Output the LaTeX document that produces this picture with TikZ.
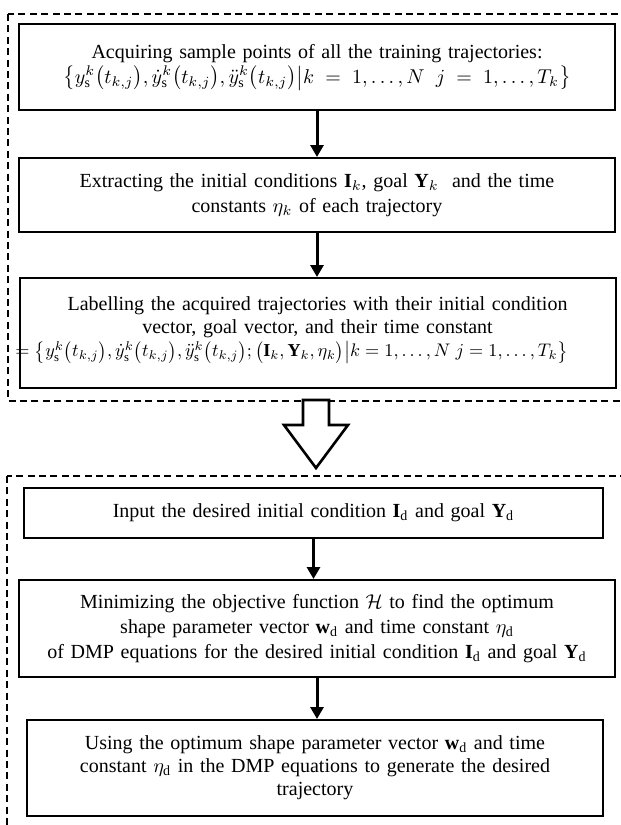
\documentclass[tikz,border=0pt]{standalone}
\usepackage{amsmath}
\usepackage{fontspec}
\setmainfont{Liberation Serif}
\usetikzlibrary{arrows.meta}

\tikzset{
  stagebox/.style={draw, line width=1pt, align=center, inner sep=2pt,
    font=\fontsize{10}{12.5}\selectfont},
  flowarrow/.style={-{Triangle[length=6pt,width=6.5pt]}, line width=1.5pt},
  groupframe/.style={line width=0.6pt, dash pattern=on 3.5pt off 2.2pt},
}

\begin{document}
\begin{tikzpicture}[x=0.5pt,y=-0.5pt]
  \path[use as bounding box, clip] (0,0) rectangle (621,825);
  % dashed group frames
  \draw[groupframe] (8,14) rectangle (650,401);
  \draw[groupframe] (7,476) rectangle (650,850);
  % upper group
  \node[stagebox, text width=294pt, minimum height=43pt] (acquire) at (317,67)
    {Acquiring sample points of all the training trajectories:\\
     $\bigl\{y_{\mathrm{s}}^{k}\bigl(t_{k,j}\bigr), \dot{y}_{\mathrm{s}}^{k}\bigl(t_{k,j}\bigr), \ddot{y}_{\mathrm{s}}^{k}\bigl(t_{k,j}\bigr) \big| k = 1,\ldots,N\; j = 1,\ldots,T_k\bigr\}$};
  \node[stagebox, text width=294pt, minimum height=37pt] (extract) at (317,195)
    {Extracting the initial conditions $\mathbf{I}_k$, goal $\mathbf{Y}_k$\ \ and the time\\
     constants $\eta_k$ of each trajectory};
  \node[stagebox, text width=294pt, minimum height=55pt, font=\fontsize{10}{11.5}\selectfont] (label) at (317.5,333)
    {Labelling the acquired trajectories with their initial condition\\
     vector, goal vector, and their time constant\\
     \makebox[294pt][l]{\hspace*{-4pt}\scalebox{0.91}{$=\bigl\{y_{\mathrm{s}}^{k}\bigl(t_{k,j}\bigr), \dot{y}_{\mathrm{s}}^{k}\bigl(t_{k,j}\bigr), \ddot{y}_{\mathrm{s}}^{k}\bigl(t_{k,j}\bigr); \bigl(\mathbf{I}_k, \mathbf{Y}_k, \eta_k\bigr) \big| k = 1,\ldots,N\; j = 1,\ldots,T_k\bigr\}$}}\rule[-6pt]{0pt}{6pt}};
  % hollow arrow between the groups
  \draw[line width=1.3pt, fill=white] (303,400) -- (303,425) -- (284,425) -- (316,468)
    -- (348,425) -- (329,425) -- (329,400) -- cycle;
  % lower group
  \node[stagebox, text width=285.5pt, minimum height=25pt] (input) at (313.5,513)
    {Input the desired initial condition $\mathbf{I}_{\mathrm{d}}$ and goal $\mathbf{Y}_{\mathrm{d}}$};
  \node[stagebox, text width=294pt, minimum height=48.5pt] (minimize) at (317,628.5)
    {Minimizing the objective function $\mathcal{H}$ to find the optimum\\
     shape parameter vector $\mathbf{w}_{\mathrm{d}}$ and time constant $\eta_{\mathrm{d}}$\\
     of DMP equations for the desired initial condition $\mathbf{I}_{\mathrm{d}}$ and goal $\mathbf{Y}_{\mathrm{d}}$};
  \node[stagebox, text width=284pt, minimum height=48pt, font=\fontsize{10}{11.5}\selectfont] (generate) at (315,768)
    {Using the optimum shape parameter vector $\mathbf{w}_{\mathrm{d}}$ and time\\
     constant $\eta_{\mathrm{d}}$ in the DMP equations to generate the desired\\
     trajectory};
  \foreach \a/\b in {acquire/extract, extract/label, input/minimize, minimize/generate}
    \draw[flowarrow] (\a.south) -- (\a.south |- \b.north);
\end{tikzpicture}
\end{document}
